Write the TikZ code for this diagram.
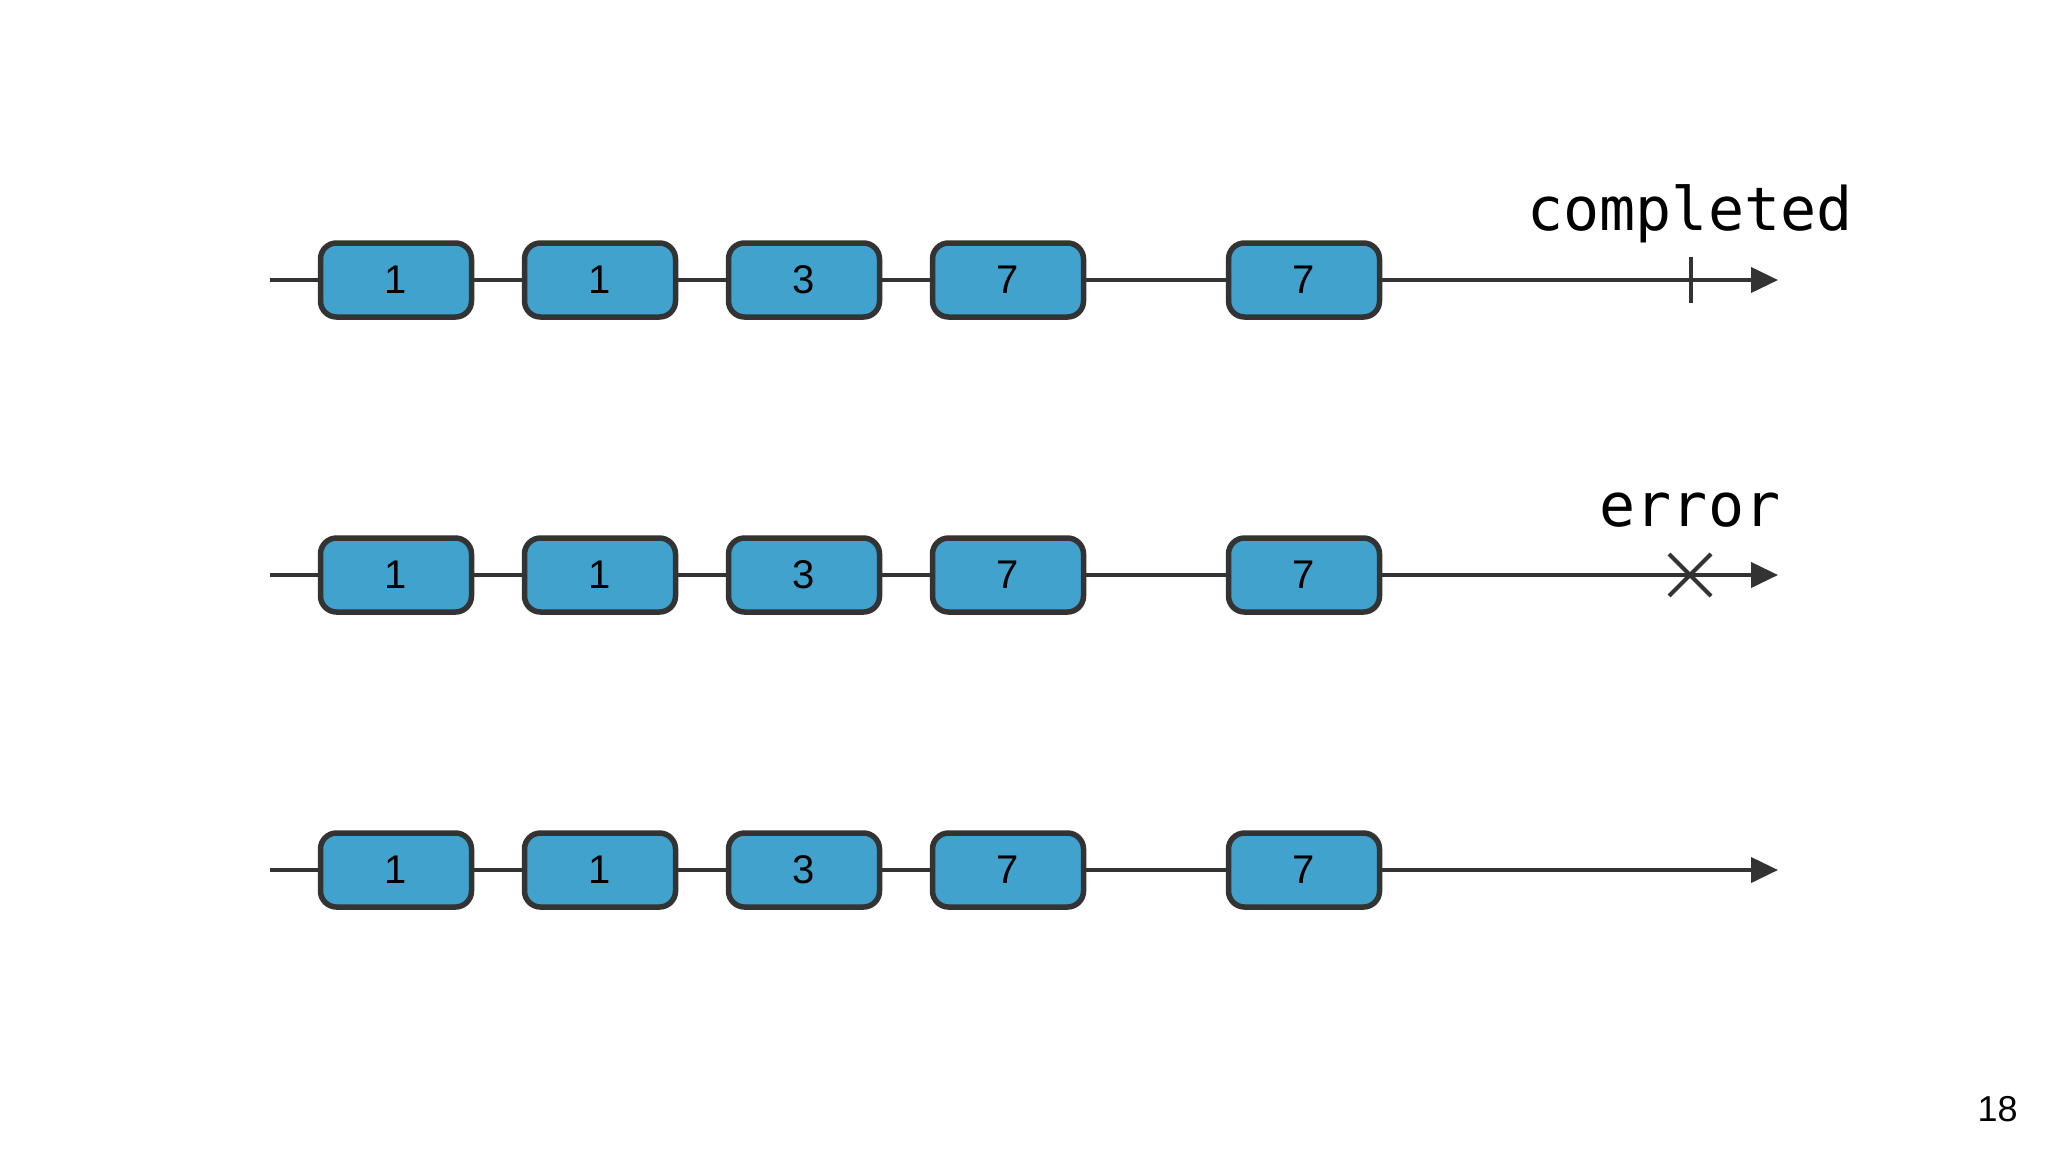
\documentclass[tikz,border=0pt]{standalone}
\usepackage{fontspec}
\setmainfont{Liberation Sans}
\newfontfamily\monofam{DejaVu Sans Mono}
\usetikzlibrary{arrows.meta}
\definecolor{boxfill}{HTML}{40A2CD}
\definecolor{linegray}{HTML}{333333}
\tikzset{
  valbox/.style={draw=linegray, fill=boxfill, line width=2.75pt, rounded corners=8pt,
    minimum width=75.5pt, minimum height=37pt, inner sep=0pt,
    font=\fontsize{20pt}{24pt}\selectfont},
  timeline/.style={draw=linegray, line width=2pt},
  endarrow/.style={timeline, -{Triangle[length=13.5pt,width=12.5pt]}},
  marklbl/.style={anchor=base, inner sep=0pt, font=\monofam\fontsize{30pt}{36pt}\selectfont},
  markline/.style={draw=linegray, line width=2pt}
}
\begin{document}
\begin{tikzpicture}[x=0.5pt,y=-0.5pt]
\useasboundingbox (0,0) rectangle (2048,1152);
\foreach \r/\y in {1/280,2/575,3/870}{
  \coordinate (s\r) at (270,\y);
  \coordinate (e\r) at (1778,\y);
  \node[valbox] (a\r) at (396,\y) {1};
  \node[valbox] (b\r) at (600,\y) {1};
  \node[valbox] (c\r) at (804,\y) {3};
  \node[valbox] (d\r) at (1008,\y) {7};
  \node[valbox] (f\r) at (1304,\y) {7};
  \draw[timeline] (s\r) -- (a\r.west);
  \draw[timeline] (a\r) -- (b\r);
  \draw[timeline] (b\r) -- (c\r);
  \draw[timeline] (c\r) -- (d\r);
  \draw[timeline] (d\r) -- (f\r);
  \draw[endarrow] (f\r) -- (e\r);
}
% completed marker
\coordinate (tick) at (1691,280);
\draw[markline] ([shift={(0,-23)}]tick) -- ([shift={(0,23)}]tick);
\node[marklbl] (lblc) at (1690,230) {completed};
% error marker
\coordinate (err) at (1690,575);
\draw[markline] ([shift={(-21,-21)}]err) -- ([shift={(21,21)}]err);
\draw[markline] ([shift={(-21,21)}]err) -- ([shift={(21,-21)}]err);
\node[marklbl] (lble) at (1690,526) {error};
% page number
\node[anchor=base east, inner sep=0pt, font=\fontsize{18pt}{22pt}\selectfont] (pg) at (2018,1121) {18};
\end{tikzpicture}
\end{document}
